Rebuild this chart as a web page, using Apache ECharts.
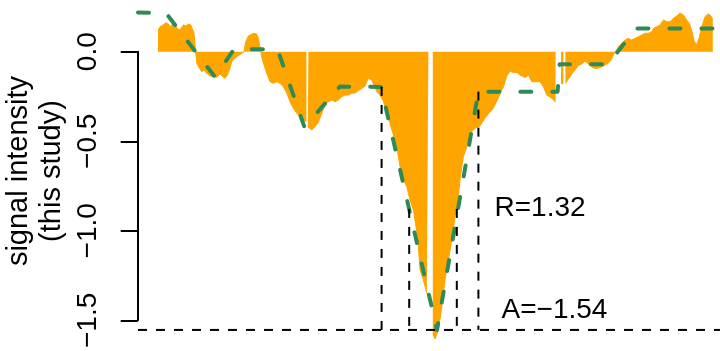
<!DOCTYPE html>
<html><head><meta charset="utf-8">
<script src="https://cdn.jsdelivr.net/npm/echarts@6/dist/echarts.min.js"></script>
<style>html,body{margin:0;padding:0;background:#fff}#c{width:720px;height:351px}</style>
</head><body><div id="c"></div>
<script>
// ---- data ----
const yTicks = [0, -0.5, -1.0, -1.5];
const yTitle = ['signal intensity', '(this study)'];
const orangePos = [10,11,12.5,14,15.2,16.4,17.4,18.5,19.7,21,22.7,24,25.2,26.4,27.4,28,28.5,29.4,30.7,31.9,33,34.4,36,38,39.4,41,42.4,43.5,44.7,45.7,46.9,48,49.4,50.7,51.9,53,53.8,55.2,56.5,58,59.3,60.2,61,61.9,62.7,64.4,66,67.7,69.4,71,72.7,74.4,76,77.7,79.4,81,82.7,84.2,84.55,84.9,85.2,86.9,88.5,90.2,91.9,93.5,95.2,96.9,98.5,100.2,101.9,103.5,105.2,106.9,108.5,110.2,111.9,113.5,114.5,115.2,116,116.9,117.7,119.4,121,122.7,124.4,126,127.7,129.4,131,132.7,134.4,136,137.7,139,140.2,141,142.7,144.4,145.2,146.3,147.4,148.5,149.3,150.2,151.9,153.5,155.2,156.9,158.5,160.2,161,161.9,162.7,163.5,164.4,166,168.5,171,173.5,176,177.7,179.4,181,182.7,184.4,186,187.7,189.4,191,193.5,195.2,196.9,199.4,201,202.7,204.4,206.9,208.8,210.2,211.5,212.7,213.2,213.7,215.2,216.9,218.5,220.2,221.9,223.5,225.2,226.9,228.5,230.2,231.9,233.5,235.2,236.9,237.7,238.5,239.4,240.2,241.9,243.5,245.2,246.9,248.5,250.2,251.9,253.5,255.2,256.9,257.7,259.4,261,262.7,264.4,266,267.7,269.4,271,272.7,274.4,276,277.2,278.2,279.4,280.5,281.9,283.5,285.2,286.5,287.4];
const orangeVal = [0.120,0.137,0.148,0.160,0.153,0.138,0.157,0.148,0.129,0.120,0.148,0.142,0.153,0.148,0.138,0.103,0.037,-0.064,-0.092,-0.111,-0.101,-0.120,-0.134,-0.138,-0.142,-0.123,-0.138,-0.147,-0.129,-0.101,-0.055,-0.037,-0.028,-0.018,-0.009,0,0.054,0.087,0.095,0.102,0.098,0.076,0.026,-0.028,-0.064,-0.120,-0.166,-0.175,-0.166,-0.175,-0.194,-0.230,-0.277,-0.313,-0.341,-0.360,-0.378,-0.387,null,-0.417,-0.424,-0.433,-0.415,-0.389,-0.341,-0.295,-0.277,-0.267,-0.277,-0.267,-0.249,-0.240,-0.240,-0.230,-0.229,-0.215,-0.204,-0.190,-0.162,-0.147,-0.146,-0.157,-0.179,-0.221,-0.240,-0.273,-0.341,-0.396,-0.461,-0.526,-0.636,-0.710,-0.747,-0.821,-0.876,-0.968,-1.079,-1.208,-1.263,-1.337,-1.341,null,-1.562,-1.590,-1.590,-1.540,-1.411,-1.263,-1.153,-1.042,-0.913,-0.802,-0.710,-0.636,-0.581,-0.572,-0.526,-0.452,-0.424,-0.411,-0.367,-0.334,-0.312,-0.273,-0.234,-0.195,-0.134,-0.107,-0.115,-0.115,-0.129,-0.143,-0.129,-0.166,-0.166,-0.166,-0.194,-0.240,-0.258,-0.278,null,-0.175,-0.175,null,-0.175,-0.151,-0.123,-0.101,-0.076,-0.068,-0.051,-0.068,-0.085,-0.093,-0.090,-0.083,-0.074,-0.063,-0.040,-0.018,-0.002,0.012,0.028,0.046,0.065,0.074,0.065,0.074,0.083,0.092,0.102,0.102,0.111,0.129,0.138,0.148,0.175,0.166,0.166,0.185,0.198,0.213,0.203,0.175,0.148,0.102,0.055,0.041,0.074,0.138,0.194,0.209,0.198,0.175];
const greenPos = [0, 14, 38.5, 48, 69.8, 83.2, 101, 121.5, 149.5, 170.2, 209.8, 210.8, 235, 249, 291];
const greenVal = [0.217, 0.214, -0.140, 0.013, 0.013, -0.417, -0.193, -0.195, -1.54, -0.221, -0.221, -0.070, -0.070, 0.129, 0.129];
const boundPos = [121.8, 135.6, 159.4, 170.2];
const boundTop = [-0.195, -0.87, -0.87, -0.221];
const amplitude = -1.54;
const ratioR = 1.32;
const xRange = [0, 291];
const yRange = [-1.6566, 0.2862];

// ---- chart ----
const FONT = '"Liberation Sans", Arial, Helvetica, sans-serif';
const minus = s => s.replace(/-/g, '\u2212');
const chart = echarts.init(document.getElementById('c'), null, {renderer: 'canvas'});

const orangeData = orangePos.map((p, i) => [p, orangeVal[i] === null ? '-' : orangeVal[i]]);
const greenData = greenPos.map((p, i) => [p, greenVal[i]]);

const blackStyle = {color: '#000', width: 2, type: [9, 9]};
const blackSeries = boundPos.map((p, i) => ({
  type: 'line', xAxisIndex: 1, yAxisIndex: 1, symbol: 'none', silent: true, z: 4,
  lineStyle: blackStyle, data: [[p, boundTop[i]], [p, amplitude]]
}));
blackSeries.push({
  type: 'line', xAxisIndex: 1, yAxisIndex: 1, symbol: 'none', silent: true, z: 4,
  lineStyle: blackStyle, data: [[xRange[0], amplitude], [xRange[1], amplitude]]
});

const option = {
  animation: false,
  backgroundColor: '#fff',
  grid: [
    {left: 137.7, top: 51.7, height: 271, width: 20},
    {left: 138, top: 0, right: 0, bottom: 0}
  ],
  xAxis: [
    {gridIndex: 0, type: 'value', show: false, min: 0, max: 1},
    {gridIndex: 1, type: 'value', show: false, min: xRange[0], max: xRange[1]}
  ],
  yAxis: [
    {gridIndex: 0, type: 'value', min: Math.min(...yTicks), max: Math.max(...yTicks), interval: 0.5,
     axisLine: {show: true, lineStyle: {color: '#000', width: 2}},
     axisTick: {show: true, length: 17, lineStyle: {color: '#000', width: 2}},
     splitLine: {show: false},
     axisLabel: {rotate: 90, margin: 35, fontSize: 28, color: '#000', fontFamily: FONT,
       formatter: v => minus(Number(v).toFixed(1))}},
    {gridIndex: 1, type: 'value', show: false, min: yRange[0], max: yRange[1]}
  ],
  series: [
    {type: 'line', xAxisIndex: 1, yAxisIndex: 1, symbol: 'none', silent: true, z: 1,
     connectNulls: false, data: orangeData,
     lineStyle: {color: '#FFA500', width: 1}, areaStyle: {color: '#FFA500', opacity: 1}},
    {type: 'line', xAxisIndex: 1, yAxisIndex: 1, symbol: 'none', silent: true, z: 3,
     data: greenData,
     lineStyle: {color: '#2E8B57', width: 4, type: [11, 21], cap: 'round', join: 'round'}}
  ].concat(blackSeries),
  graphic: [
    {type: 'text', x: 19, y: 171, rotation: Math.PI / 2, silent: true,
     style: {text: yTitle[0], fill: '#000', font: '29px ' + FONT, align: 'center', verticalAlign: 'middle', textAlign: 'center', textVerticalAlign: 'middle'}},
    {type: 'text', x: 52, y: 171, rotation: Math.PI / 2, silent: true,
     style: {text: yTitle[1], fill: '#000', font: '29px ' + FONT, align: 'center', verticalAlign: 'middle', textAlign: 'center', textVerticalAlign: 'middle'}},
    {type: 'text', x: 494.5, y: 208.6, silent: true,
     style: {text: 'R=' + ratioR.toFixed(2), fill: '#000', font: '28px ' + FONT, align: 'left', verticalAlign: 'middle', textAlign: 'left', textVerticalAlign: 'middle'}},
    {type: 'text', x: 501.5, y: 310.3, silent: true,
     style: {text: 'A=' + minus(amplitude.toFixed(2)), fill: '#000', font: '28px ' + FONT, align: 'left', verticalAlign: 'middle', textAlign: 'left', textVerticalAlign: 'middle'}}
  ]
};
chart.setOption(option);
</script>
</body></html>
